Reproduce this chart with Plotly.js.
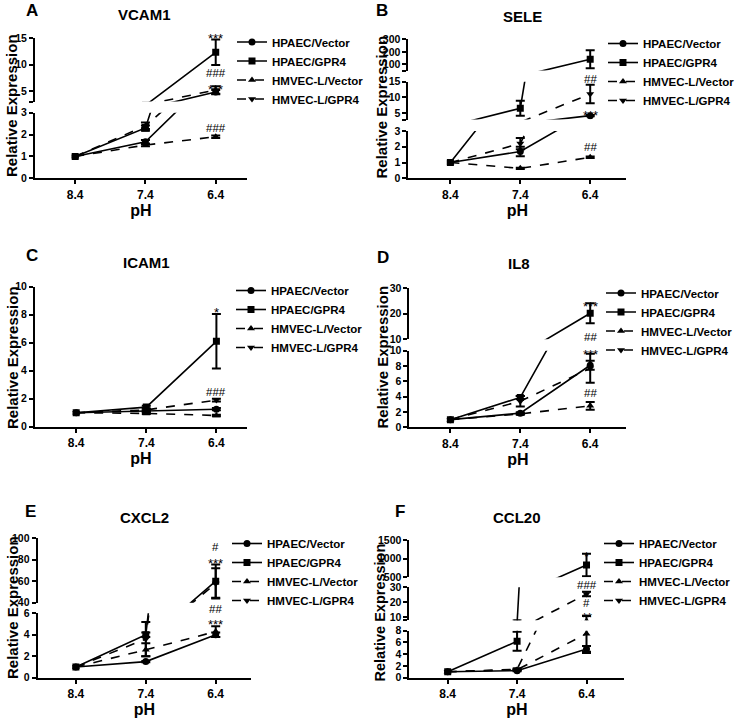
<!DOCTYPE html>
<html><head><meta charset="utf-8">
<script src="https://cdn.plot.ly/plotly-3.0.1.min.js"></script>
<style>html,body{margin:0;padding:0;background:#fff}</style>
</head><body><div id="chart" style="width:740px;height:721px"></div>
<script>
// ---------- DATA ----------
const pH = [8.4, 7.4, 6.4];
const pHLabels = ['8.4', '7.4', '6.4'];
const seriesNames = ['HPAEC/Vector', 'HPAEC/GPR4', 'HMVEC-L/Vector', 'HMVEC-L/GPR4'];
const genes = ['VCAM1', 'SELE', 'ICAM1', 'IL8', 'CXCL2', 'CCL20'];
const panelLetters = ['A', 'B', 'C', 'D', 'E', 'F'];

// rows: HPAEC/Vector, HPAEC/GPR4, HMVEC-L/Vector, HMVEC-L/GPR4 ; columns: pH 8.4, 7.4, 6.4
const VCAM1_mean = [[1, 1.67, 4.8], [1, 2.3, 12.3], [1, 1.52, 1.9], [1, 2.4, 5.2]];
const VCAM1_err  = [[0, 0.08, 0.4], [0, 0.12, 2.4], [0, 0.05, 0.06], [0, 0.15, 0.7]];
const SELE_mean  = [[1, 1.7, 4.25], [1, 6.6, 140], [1, 0.63, 1.33], [1, 2.2, 11.1]];
const SELE_err   = [[0, 0.3, 0.2], [0, 2.4, 72], [0, 0.04, 0.05], [0, 0.35, 2.9]];
const ICAM1_mean = [[1, 1.1, 1.25], [1, 1.4, 6.1], [1, 0.95, 0.8], [1, 1.2, 1.9]];
const ICAM1_err  = [[0, 0.05, 0.08], [0, 0.1, 1.95], [0, 0.05, 0.05], [0, 0.08, 0.1]];
const IL8_mean   = [[1, 1.85, 8.1], [1, 3.9, 20.2], [1, 1.75, 2.8], [1, 3.4, 7.7]];
const IL8_err    = [[0, 0.1, 0.6], [0, 0.2, 3.9], [0, 0.1, 0.5], [0, 0.7, 1.9]];
const CXCL2_mean = [[1, 1.5, 4.0], [1, 4.0, 60], [1, 2.6, 4.3], [1, 3.6, 58]];
const CXCL2_err  = [[0, 0.05, 0.2], [0, 0.2, 15.5], [0, 0.6, 0.5], [0, 1.6, 14]];
const CCL20_mean = [[1, 1.2, 4.9], [1, 6.2, 830], [1, 1.35, 7.5], [1, 1.45, 25.5]];
const CCL20_err  = [[0, 0.1, 0.5], [0, 1.6, 300], [0, 0.1, 3.3], [0, 0.1, 1.5]];

const VCAM1_sig = ['***', '###', '***', '###'];
const SELE_sig  = ['##', '***', '##'];
const ICAM1_sig = ['*', '###'];
const IL8_sig   = ['***', '##', '***', '##'];
const CXCL2_sig = ['#', '***', '##', '***'];
const CCL20_sig = ['*', '###', '#', '**'];

// ---------- LAYOUT / STYLE ----------
const W = 740, H = 721;
const FONT = 'Liberation Sans, Arial, sans-serif';
const symbols = ['circle', 'square', 'triangle-up', 'triangle-down'];
const dashes = ['solid', 'solid', 'dash', 'dash'];

// pixel geometry of each panel (b = bottom px, t = top px of each y segment)
const panels = [
  {mean: VCAM1_mean, err: VCAM1_err, sig: VCAM1_sig, xL: 35, xR: 247, c8: 75.3, c6: 216,
   segs: [{r: [0, 3], b: 178.3, t: 112.7, tv: [0, 1, 2, 3]},
          {r: [3, 15], b: 101.6, t: 38, tv: [3, 5, 10, 15], tt: ['', '5', '10', '15']}],
   sigPos: [[1, 15, 2], [1, 8.45, 0], [1, 5.9, 0], [0, 2.31, 0]],
   letter: [32, 11], title: [145, 15], ytitle: [12, 105], ytsize: 15, leg: [232, 70.5]},
  {mean: SELE_mean, err: SELE_err, sig: SELE_sig, xL: 409, xR: 627, c8: 451, c6: 591,
   segs: [{r: [0, 3], b: 178.3, t: 131, tv: [0, 1, 2, 3]},
          {r: [3, 15], b: 119.6, t: 81.7, tv: [3, 5, 10, 15], tt: ['', '5', '10', '15']},
          {r: [50, 300], b: 70.6, t: 39.3, tv: [50, 100, 200, 300], tt: ['', '100', '200', '300']}],
   sigPos: [[1, 15, 2.7], [1, 5.1, 0], [0, 2.0, 0]],
   letter: [383, 11], title: [523, 17], ytitle: [383, 107], ytsize: 15, leg: [604, 72]},
  {mean: ICAM1_mean, err: ICAM1_err, sig: ICAM1_sig, xL: 35, xR: 247, c8: 76.3, c6: 216.7,
   segs: [{r: [0, 10], b: 426.7, t: 286.7, tv: [0, 2, 4, 6, 8, 10]}],
   sigPos: [[0, 8.36, 0], [0, 2.5, 0]],
   letter: [32, 255], title: [147, 262], ytitle: [12, 357], ytsize: 15, leg: [231, 319]},
  {mean: IL8_mean, err: IL8_err, sig: IL8_sig, xL: 410, xR: 627, c8: 451, c6: 591,
   segs: [{r: [0, 10], b: 427.3, t: 350.7, tv: [0, 2, 4, 6, 8, 10]},
          {r: [10, 30], b: 339.3, t: 288.3, tv: [10, 20, 30]}],
   sigPos: [[1, 24.2, 0], [1, 11.0, 0], [0, 9.92, 0], [0, 4.44, 0]],
   letter: [384, 257], title: [520, 263], ytitle: [383, 357], ytsize: 15, leg: [601, 321.5]},
  {mean: CXCL2_mean, err: CXCL2_err, sig: CXCL2_sig, xL: 37.7, xR: 251.7, c8: 76, c6: 216,
   segs: [{r: [0, 6], b: 677.7, t: 613.3, tv: [0, 2, 4, 6]},
          {r: [40, 100], b: 602.7, t: 538.3, tv: [40, 60, 80, 100]}],
   sigPos: [[1, 91.6, 0], [1, 79.5, 0], [0, 6, 4], [0, 5.26, 0]],
   letter: [31, 511], title: [145, 517], ytitle: [12, 607], ytsize: 15, leg: [227, 572]},
  {mean: CCL20_mean, err: CCL20_err, sig: CCL20_sig, xL: 410, xR: 625, c8: 448.3, c6: 587.3,
   segs: [{r: [0, 8], b: 677.7, t: 630.7, tv: [0, 2, 4, 6, 8]},
          {r: [8, 30], b: 620.3, t: 587.3, tv: [8, 10, 20, 30], tt: ['', '10', '20', '30']},
          {r: [500, 1500], b: 577.3, t: 540, tv: [500, 1000, 1500]}],
   sigPos: [[2, 1151, 0], [1, 30, 2.3], [1, 19.3, 0], [1, 11.7, 0]],
   letter: [401, 511], title: [518, 517], ytitle: [381, 612], ytsize: 14.5, leg: [599, 572]}
];

const layout = {
  width: W, height: H, margin: {l: 0, r: 0, t: 0, b: 0},
  paper_bgcolor: '#fff', plot_bgcolor: 'rgba(0,0,0,0)',
  font: {family: FONT, color: '#000'},
  showlegend: true, annotations: []
};
const traces = [];
let yCount = 0;

panels.forEach((p, pi) => {
  const xn = pi + 1;
  const xName = 'x' + (xn === 1 ? '' : xn);
  const xKey = 'xaxis' + (xn === 1 ? '' : xn);
  const legKey = 'legend' + (xn === 1 ? '' : xn);
  const ppu = (p.c6 - p.c8) / 2;
  const yNames = [];
  p.segs.forEach((s) => {
    yCount++;
    const yName = 'y' + (yCount === 1 ? '' : yCount);
    const yKey = 'yaxis' + (yCount === 1 ? '' : yCount);
    yNames.push(yName);
    layout[yKey] = {
      domain: [1 - s.b / H, 1 - s.t / H], range: s.r, anchor: xName,
      showline: true, linewidth: 2, linecolor: '#000',
      ticks: 'outside', ticklen: 4, tickwidth: 2, tickcolor: '#000',
      tickmode: 'array', tickvals: s.tv, ticktext: s.tt || s.tv.map(String),
      tickfont: {family: FONT, size: 10.5, weight: 'bold', color: '#000'},
      showgrid: false, zeroline: false, automargin: false, fixedrange: true
    };
  });
  layout[xKey] = {
    domain: [p.xL / W, p.xR / W],
    range: [8.4 + (p.c8 - p.xL) / ppu, 6.4 - (p.xR - p.c6) / ppu],
    anchor: yNames[0],
    showline: true, linewidth: 2, linecolor: '#000',
    ticks: 'outside', ticklen: 4, tickwidth: 2, tickcolor: '#000',
    tickmode: 'array', tickvals: pH, ticktext: pHLabels,
    tickfont: {family: FONT, size: 12, weight: 'bold', color: '#000'},
    showgrid: false, zeroline: false, automargin: false, fixedrange: true,
    title: {text: 'pH', font: {family: FONT, size: 16, weight: 'bold', color: '#000'}, standoff: 0}
  };
  layout[legKey] = {
    x: p.leg[0] / W, y: 1 - p.leg[1] / H, xanchor: 'left', yanchor: 'middle',
    bgcolor: 'rgba(0,0,0,0)', borderwidth: 0,
    font: {family: FONT, size: 11.5, weight: 'bold', color: '#000'},
    tracegroupgap: 0, itemclick: false, itemdoubleclick: false
  };

  seriesNames.forEach((name, k) => {
    yNames.forEach((yName, si) => {
      traces.push({
        type: 'scatter', mode: 'lines+markers', name: name,
        x: pH, y: p.mean[k], xaxis: xName, yaxis: yName,
        legend: legKey, showlegend: si === 0,
        line: {color: '#000', width: 1.6, dash: dashes[k]},
        marker: {symbol: symbols[k], size: 7, color: '#000'},
        error_y: {type: 'data', array: p.err[k].map(v => v > 0 ? v : NaN), visible: true,
                  color: '#000', thickness: 2, width: 4.5},
        hoverinfo: 'skip'
      });
    });
  });

  // significance marks
  p.sig.forEach((txt, i) => {
    const sp = p.sigPos[i];
    const isStar = txt.indexOf('*') >= 0;
    layout.annotations.push({
      xref: xName, yref: yNames[sp[0]], x: 6.4, y: sp[1],
      text: txt, showarrow: false, xanchor: 'center', yanchor: 'middle',
      yshift: sp[2] + (isStar ? -3 : 0),
      font: {family: FONT, size: isStar ? 13 : 11.5, color: '#000'}
    });
  });

  // panel letter, gene title, y-axis title
  layout.annotations.push({
    xref: 'paper', yref: 'paper', x: p.letter[0] / W, y: 1 - p.letter[1] / H,
    text: panelLetters[pi], showarrow: false, xanchor: 'center', yanchor: 'middle',
    font: {family: FONT, size: 17, weight: 'bold', color: '#000'}
  });
  layout.annotations.push({
    xref: 'paper', yref: 'paper', x: p.title[0] / W, y: 1 - p.title[1] / H,
    text: genes[pi], showarrow: false, xanchor: 'center', yanchor: 'middle',
    font: {family: FONT, size: 15, weight: 'bold', color: '#000'}
  });
  layout.annotations.push({
    xref: 'paper', yref: 'paper', x: p.ytitle[0] / W, y: 1 - p.ytitle[1] / H,
    text: 'Relative Expression', showarrow: false, textangle: -90,
    xanchor: 'center', yanchor: 'middle',
    font: {family: FONT, size: p.ytsize, weight: 'bold', color: '#000'}
  });
});

Plotly.newPlot('chart', traces, layout, {staticPlot: true, displayModeBar: false});
</script>
</body></html>
